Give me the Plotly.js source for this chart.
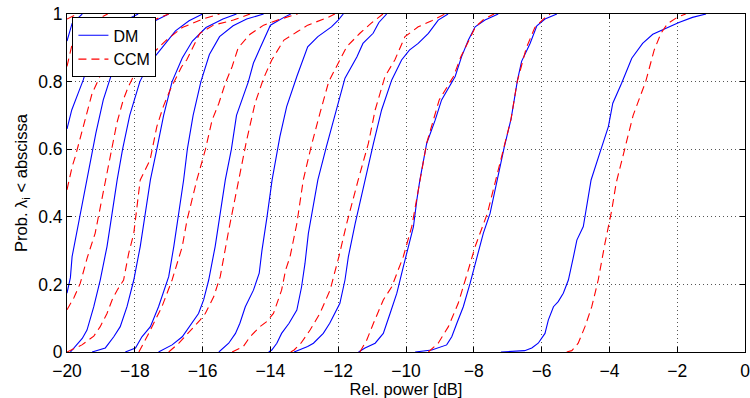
<!DOCTYPE html>
<html>
<head>
<meta charset="utf-8">
<script src="https://cdn.plot.ly/plotly-3.0.1.min.js"></script>
<style>html,body{margin:0;padding:0;background:#fff;}#chart{width:750px;height:398px;}</style>
</head>
<body>
<div id="chart"></div>
<script>
// ---- DM curves (blue, solid) ----
const dmA_x = [-20, -19.85, -19.55];
const dmA_y = [0.92, 0.972, 1.0];
const dmB_x = [-20, -19.86, -19.67, -19.52, -19.37, -19.1, -18.7, -18.3, -17.9];
const dmB_y = [0.66, 0.716, 0.766, 0.805, 0.855, 0.9, 0.95, 0.98, 1.0];
const dmC_x = [-20, -19.9, -19.85, -19.7, -19.56, -19.41, -19.3, -19.15, -18.93, -18.75, -18.58, -18.3, -17.9, -17.4, -17.0];
const dmC_y = [0.174, 0.22, 0.282, 0.361, 0.43, 0.509, 0.57, 0.647, 0.746, 0.805, 0.855, 0.9, 0.95, 0.98, 1.0];
const dmD_x = [-19.9, -19.75, -19.55, -19.41, -19.21, -19.02, -18.82, -18.67, -18.52, -18.36, -18.15, -17.85, -17.6, -17.2, -16.8, -16.4, -16.0];
const dmD_y = [0, 0.016, 0.04, 0.065, 0.134, 0.213, 0.312, 0.41, 0.509, 0.6, 0.7, 0.8, 0.85, 0.9, 0.95, 0.98, 1.0];
const dmE_x = [-19.26, -18.87, -18.62, -18.43, -18.23, -18.03, -17.84, -17.69, -17.54, -17.35, -17.15, -16.9, -16.6, -16.3, -15.9, -15.4, -15.0];
const dmE_y = [0, 0.012, 0.045, 0.075, 0.134, 0.213, 0.312, 0.41, 0.509, 0.6, 0.7, 0.8, 0.87, 0.92, 0.96, 0.985, 1.0];
const dmF_x = [-18.28, -17.98, -17.79, -17.54, -17.3, -17.0, -16.85, -16.7, -16.56, -16.45, -16.28, -16.05, -15.8, -15.5, -15.1, -14.7, -14.2];
const dmF_y = [0, 0.012, 0.045, 0.075, 0.134, 0.223, 0.312, 0.41, 0.509, 0.6, 0.7, 0.8, 0.88, 0.933, 0.965, 0.985, 1.0];
const dmG_x = [-17.3, -16.9, -16.6, -16.12, -15.97, -15.82, -15.63, -15.48, -15.33, -15.15, -15.0, -14.65, -14.5, -14.3, -14.0, -13.6, -13.4];
const dmG_y = [0, 0.021, 0.045, 0.114, 0.154, 0.213, 0.312, 0.41, 0.509, 0.6, 0.7, 0.8, 0.855, 0.9, 0.967, 0.99, 1.0];
const dmH_x = [-15.52, -15.23, -15.03, -14.9, -14.74, -14.5, -14.33, -14.25, -14.1, -13.95, -13.72, -13.52, -13.22, -12.9, -12.6, -12.2, -12.0, -11.85];
const dmH_y = [0, 0.026, 0.055, 0.085, 0.134, 0.183, 0.233, 0.3, 0.4, 0.509, 0.637, 0.726, 0.815, 0.903, 0.933, 0.962, 0.982, 1.0];
const dmI_x = [-14.05, -13.96, -13.81, -13.67, -13.45, -13.22, -13.08, -12.98, -12.88, -12.75, -12.6, -12.35, -12.15, -11.98, -11.8, -11.45, -11.27, -10.97, -10.8, -10.57];
const dmI_y = [0, 0.006, 0.026, 0.055, 0.085, 0.124, 0.193, 0.262, 0.351, 0.43, 0.509, 0.607, 0.68, 0.746, 0.81, 0.873, 0.913, 0.943, 0.975, 1.0];
const dmJ_x = [-13.3, -12.9, -12.73, -12.44, -12.25, -11.95, -11.8, -11.7, -11.5, -11.21, -10.96, -10.72, -10.42, -10.13, -9.9, -9.64, -9.34, -9.05, -8.76];
const dmJ_y = [0, 0.016, 0.026, 0.055, 0.085, 0.144, 0.213, 0.282, 0.38, 0.509, 0.617, 0.716, 0.805, 0.864, 0.893, 0.913, 0.943, 0.982, 1.0];
const dmK_x = [-11.4, -11.21, -10.91, -10.67, -10.47, -10.27, -10.08, -9.93, -9.78, -9.68, -9.59, -9.39, -9.14, -8.95, -8.55, -8.36, -8.16, -7.96, -7.67, -7.28];
const dmK_y = [0, 0.012, 0.026, 0.055, 0.114, 0.174, 0.252, 0.312, 0.371, 0.45, 0.509, 0.617, 0.686, 0.746, 0.815, 0.874, 0.923, 0.962, 0.982, 1.0];
const dmL_x = [-9.73, -9.24, -8.8, -8.65, -8.5, -8.31, -8.11, -7.96, -7.72, -7.52, -7.32, -7.1, -6.9, -6.71, -6.59, -6.34, -6.14, -5.9, -5.55];
const dmL_y = [0, 0.006, 0.021, 0.045, 0.085, 0.134, 0.203, 0.262, 0.351, 0.41, 0.509, 0.607, 0.69, 0.805, 0.86, 0.913, 0.965, 0.985, 1.0];
const dmM_x = [-7.2, -6.5, -6.29, -6.1, -5.9, -5.8, -5.65, -5.51, -5.36, -5.21, -5.06, -4.96, -4.77, -4.65, -4.54, -4.28, -4.03, -3.9, -3.64, -3.34, -3.02, -2.72, -2.34, -1.95, -1.55, -1.15];
const dmM_y = [0, 0.004, 0.012, 0.026, 0.055, 0.095, 0.134, 0.149, 0.174, 0.213, 0.282, 0.331, 0.371, 0.45, 0.509, 0.59, 0.667, 0.736, 0.795, 0.869, 0.913, 0.94, 0.957, 0.975, 0.99, 1.0];

// ---- CCM curves (red, dashed) ----
const ccmA0_x = [-20, -19.7];
const ccmA0_y = [0.985, 1.0];
const ccmA_x = [-20, -19.85, -19.6, -19.2, -18.8];
const ccmA_y = [0.845, 0.91, 0.95, 0.98, 1.0];
const ccmB_x = [-20, -19.85, -19.75, -19.6, -19.52, -19.37, -19.26, -19.03, -18.8, -18.5, -18.0, -17.5, -17.0];
const ccmB_y = [0.48, 0.548, 0.58, 0.637, 0.66, 0.716, 0.765, 0.815, 0.86, 0.9, 0.95, 0.98, 1.0];
const ccmC_x = [-20, -19.8, -19.61, -19.4, -19.17, -18.98, -18.87, -18.73, -18.53, -18.34, -18.19, -18.04, -17.85, -17.5, -17.1, -16.6, -16.0, -15.5];
const ccmC_y = [0.125, 0.16, 0.203, 0.28, 0.351, 0.45, 0.509, 0.577, 0.677, 0.746, 0.785, 0.815, 0.843, 0.88, 0.92, 0.96, 0.985, 1.0];
const ccmD_x = [-20.0, -19.56, -19.21, -19.02, -18.82, -18.67, -18.52, -18.33, -18.18, -18.03, -17.84, -17.55, -17.35, -17.16, -16.96, -16.62, -16.47, -16.08, -15.68, -15.09, -14.6];
const ccmD_y = [0, 0.021, 0.047, 0.075, 0.114, 0.154, 0.183, 0.213, 0.292, 0.351, 0.509, 0.568, 0.667, 0.726, 0.775, 0.844, 0.864, 0.943, 0.967, 0.982, 1.0];
const ccmE_x = [-17.88, -17.79, -17.59, -17.2, -16.9, -16.6, -16.46, -16.17, -15.92, -15.72, -15.52, -15.33, -15.13, -14.95, -14.6, -14.2, -13.7, -13.2];
const ccmE_y = [0, 0.016, 0.055, 0.134, 0.213, 0.312, 0.39, 0.509, 0.598, 0.686, 0.736, 0.795, 0.844, 0.9, 0.94, 0.967, 0.985, 1.0];
const ccmF_x = [-17.0, -16.7, -16.07, -15.92, -15.67, -15.48, -15.23, -14.94, -14.7, -14.45, -14.2, -13.96, -13.8, -13.6, -13.2, -12.9, -12.3, -12.1];
const ccmF_y = [0, 0.026, 0.095, 0.114, 0.164, 0.223, 0.36, 0.509, 0.627, 0.737, 0.81, 0.864, 0.89, 0.923, 0.948, 0.967, 0.99, 1.0];
const ccmG_x = [-15.13, -14.8, -14.6, -14.31, -14.11, -13.91, -13.67, -13.55, -13.42, -13.22, -13.03, -12.8, -12.54, -12.28, -11.75, -11.36, -11.0, -10.68];
const ccmG_y = [0, 0.016, 0.045, 0.075, 0.09, 0.114, 0.183, 0.243, 0.282, 0.38, 0.509, 0.607, 0.706, 0.8, 0.903, 0.943, 0.975, 1.0];
const ccmH_x = [-13.4, -13.3, -13.1, -12.83, -12.54, -12.24, -11.98, -11.75, -11.41, -11.11, -10.91, -10.62, -10.33, -10.03, -9.64, -9.24, -8.85];
const ccmH_y = [0, 0.006, 0.026, 0.065, 0.114, 0.183, 0.282, 0.38, 0.509, 0.617, 0.716, 0.815, 0.864, 0.933, 0.962, 0.98, 1.0];
const ccmI_x = [-11.36, -11.16, -10.96, -10.67, -10.42, -10.08, -9.83, -9.59, -9.39, -9.02, -8.6, -8.38, -8.15, -7.95, -7.7, -7.4];
const ccmI_y = [0, 0.035, 0.085, 0.154, 0.193, 0.282, 0.371, 0.509, 0.618, 0.746, 0.815, 0.874, 0.923, 0.962, 0.985, 1.0];
const ccmJ_x = [-9.34, -9.05, -8.75, -8.46, -8.2, -7.96, -7.6, -7.35, -7.1, -6.9, -6.72, -6.45, -6.2, -5.95, -5.75];
const ccmJ_y = [0, 0.026, 0.075, 0.144, 0.23, 0.312, 0.41, 0.509, 0.607, 0.69, 0.8, 0.9, 0.96, 0.985, 1.0];
const ccmK_x = [-5.26, -5.11, -4.92, -4.72, -4.52, -4.33, -4.13, -3.93, -3.8, -3.56, -3.3, -2.93, -2.68, -2.48, -2.28, -2.0, -1.75];
const ccmK_y = [0, 0.004, 0.026, 0.075, 0.134, 0.213, 0.322, 0.42, 0.5, 0.6, 0.7, 0.8, 0.893, 0.943, 0.972, 0.99, 1.0];

// ---- axis ticks ----
const xTicks = [-20, -18, -16, -14, -12, -10, -8, -6, -4, -2, 0];
const yTicks = [0, 0.2, 0.4, 0.6, 0.8, 1];
const seriesNames = ['DM', 'CCM'];

const dmCurves = [[dmA_x,dmA_y],[dmB_x,dmB_y],[dmC_x,dmC_y],[dmD_x,dmD_y],[dmE_x,dmE_y],[dmF_x,dmF_y],[dmG_x,dmG_y],[dmH_x,dmH_y],[dmI_x,dmI_y],[dmJ_x,dmJ_y],[dmK_x,dmK_y],[dmL_x,dmL_y],[dmM_x,dmM_y]];
const ccmCurves = [[ccmA0_x,ccmA0_y],[ccmA_x,ccmA_y],[ccmB_x,ccmB_y],[ccmC_x,ccmC_y],[ccmD_x,ccmD_y],[ccmE_x,ccmE_y],[ccmF_x,ccmF_y],[ccmG_x,ccmG_y],[ccmH_x,ccmH_y],[ccmI_x,ccmI_y],[ccmJ_x,ccmJ_y],[ccmK_x,ccmK_y]];

const traces = [];
dmCurves.forEach((c, i) => traces.push({
  x: c[0], y: c[1], type: 'scatter', mode: 'lines',
  name: seriesNames[0], legendgroup: 'dm', showlegend: i === 0,
  line: {color: '#0000ff', width: 1.1}, hoverinfo: 'skip'
}));
ccmCurves.forEach((c, i) => traces.push({
  x: c[0], y: c[1], type: 'scatter', mode: 'lines',
  name: seriesNames[1], legendgroup: 'ccm', showlegend: i === 0,
  line: {color: '#ff0000', width: 1.1, dash: '8px,5px'}, hoverinfo: 'skip'
}));

const font = {family: '"Liberation Sans", Arial, Helvetica, sans-serif', color: '#000'};
const layout = {
  width: 750, height: 398,
  margin: {l: 67, r: 5, t: 14, b: 46},
  paper_bgcolor: '#fff', plot_bgcolor: '#fff',
  font: Object.assign({size: 17}, font),
  showlegend: true,
  legend: {
    x: 0.008, y: 0.99, xanchor: 'left', yanchor: 'top',
    bgcolor: '#fff', bordercolor: '#000', borderwidth: 1,
    font: Object.assign({size: 16}, font), tracegroupgap: 0
  },
  xaxis: {
    range: [-20, 0], tickvals: xTicks, ticks: 'inside', ticklen: 5, tickcolor: '#000',
    showline: true, linecolor: '#000', linewidth: 1, mirror: 'ticks',
    showgrid: true, gridcolor: '#555', griddash: '1px,3px', gridwidth: 1, zeroline: false,
    tickfont: Object.assign({size: 17.5}, font), ticklabelstandoff: 3,
    ticklabeloverflow: 'allow',
    automargin: false,
    title: {text: 'Rel. power [dB]', font: Object.assign({size: 16.5}, font), standoff: 1}
  },
  yaxis: {
    range: [0, 1], tickvals: yTicks, ticks: 'inside', ticklen: 5, tickcolor: '#000',
    showline: true, linecolor: '#000', linewidth: 1, mirror: 'ticks',
    showgrid: true, gridcolor: '#555', griddash: '1px,3px', gridwidth: 1, zeroline: false,
    tickfont: Object.assign({size: 17.5}, font),
    ticklabeloverflow: 'allow',
    automargin: false,
    title: {text: 'Prob. λ<sub>i</sub> &lt; abscissa', font: Object.assign({size: 16.5}, font), standoff: 6}
  }
};
Plotly.newPlot('chart', traces, layout, {staticPlot: true, displayModeBar: false});
</script>
</body>
</html>
